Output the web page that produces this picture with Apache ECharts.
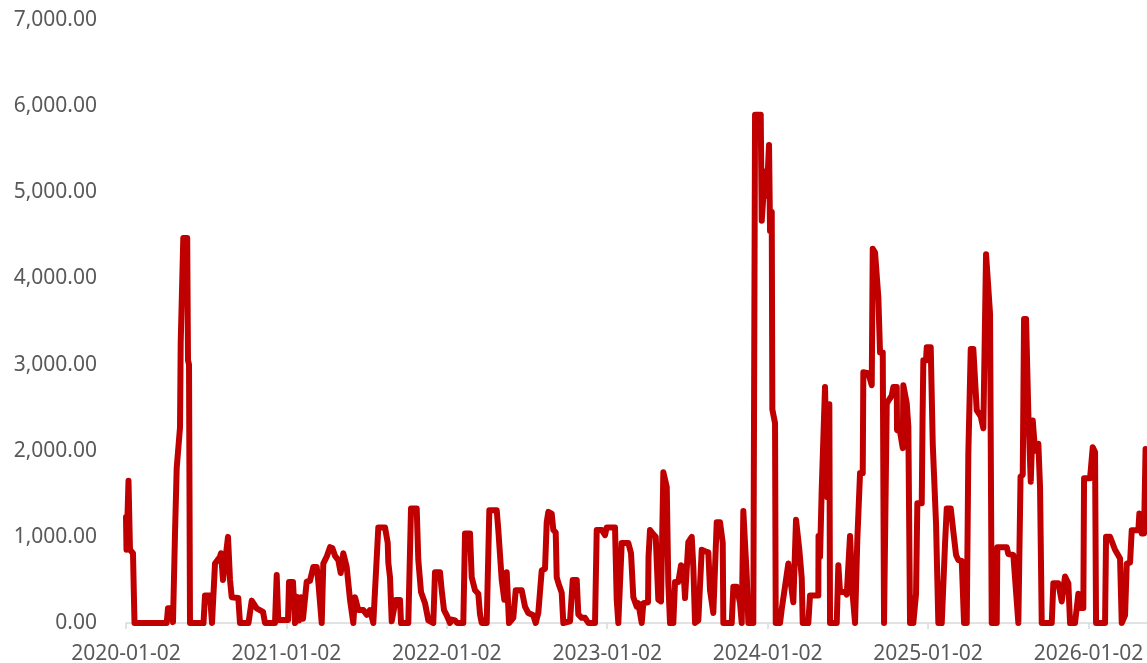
<!DOCTYPE html>
<html>
<head>
<meta charset="utf-8">
<title>Daily series 2020–2026</title>
<script src="https://cdn.jsdelivr.net/npm/echarts@6/dist/echarts.min.js"></script>
<style>
  html, body { margin: 0; padding: 0; background: #ffffff; }
  #chart { width: 1147px; height: 663px; }
</style>
</head>
<body>
<div id="chart"></div>
<script>
// Time of each reading, in years since 2020-01-02
const t = [
  0.0000, 0.0031, 0.0156, 0.0249, 0.0436, 0.0530, 0.2537, 0.2618, 0.2837, 0.2930,
  0.3055, 0.3161, 0.3367, 0.3410, 0.3572, 0.3815, 0.3865, 0.3928, 0.3990, 0.4832,
  0.4925, 0.5237, 0.5362, 0.5549, 0.5860, 0.5923, 0.6047, 0.6359, 0.6484, 0.6590,
  0.7001, 0.7107, 0.7637, 0.7837, 0.8148, 0.8541, 0.8666, 0.9289, 0.9395, 0.9495,
  1.0100, 1.0162, 1.0411, 1.0536, 1.0642, 1.0786, 1.0910, 1.1035, 1.1266, 1.1471,
  1.1677, 1.1889, 1.1989, 1.2201, 1.2300, 1.2512, 1.2718, 1.2862, 1.3030, 1.3236,
  1.3385, 1.3547, 1.3759, 1.3965, 1.4171, 1.4277, 1.4483, 1.4794, 1.5006, 1.5212,
  1.5418, 1.5730, 1.6147, 1.6316, 1.6353, 1.6459, 1.6565, 1.6664, 1.6814, 1.7082,
  1.7145, 1.7600, 1.7768, 1.8123, 1.8223, 1.8391, 1.8641, 1.8847, 1.9158, 1.9264,
  1.9576, 1.9682, 1.9825, 1.9994, 2.0199, 2.0305, 2.0511, 2.0636, 2.1028, 2.1135,
  2.1446, 2.1552, 2.1758, 2.1964, 2.2070, 2.2176, 2.2487, 2.2650, 2.3111, 2.3211,
  2.3423, 2.3585, 2.3734, 2.3815, 2.3878, 2.4146, 2.4296, 2.4670, 2.4875, 2.5081,
  2.5393, 2.5542, 2.5704, 2.5916, 2.6122, 2.6228, 2.6328, 2.6540, 2.6640, 2.6789,
  2.6852, 2.6995, 2.7163, 2.7263, 2.7681, 2.7849, 2.8099, 2.8198, 2.8410, 2.8616,
  2.8822, 2.9239, 2.9345, 2.9657, 2.9863, 2.9969, 3.0486, 3.0592, 3.0692, 3.0798,
  3.0904, 3.1315, 3.1484, 3.1627, 3.1839, 3.1939, 3.2151, 3.2250, 3.2544, 3.2575,
  3.2668, 3.2874, 3.3024, 3.3185, 3.3354, 3.3498, 3.3710, 3.3809, 3.3915, 3.4121,
  3.4227, 3.4433, 3.4601, 3.4744, 3.4850, 3.4956, 3.5056, 3.5268, 3.5368, 3.5474,
  3.5680, 3.5891, 3.6141, 3.6303, 3.6409, 3.6615, 3.6827, 3.7032, 3.7201, 3.7238,
  3.7762, 3.7862, 3.8074, 3.8279, 3.8385, 3.8485, 3.8591, 3.8697, 3.8797, 3.9108,
  3.9215, 3.9570, 3.9632, 3.9838, 3.9944, 4.0087, 4.0150, 4.0256, 4.0293, 4.0461,
  4.0505, 4.0773, 4.0879, 4.1290, 4.1396, 4.1602, 4.1770, 4.1976, 4.2126, 4.2188,
  4.2537, 4.2643, 4.3161, 4.3173, 4.3267, 4.3373, 4.3578, 4.3722, 4.3847, 4.3890,
  4.4308, 4.4408, 4.4514, 4.4825, 4.4931, 4.5137, 4.5305, 4.5449, 4.5592, 4.5761,
  4.5929, 4.5966, 4.6278, 4.6490, 4.6552, 4.6696, 4.6902, 4.7007, 4.7176, 4.7257,
  4.7425, 4.7737, 4.7837, 4.8049, 4.8067, 4.8254, 4.8423, 4.8460, 4.8672, 4.8772,
  4.8878, 4.9084, 4.9252, 4.9333, 4.9607, 4.9657, 4.9707, 4.9875, 4.9919, 5.0168,
  5.0293, 5.0499, 5.0642, 5.0854, 5.1060, 5.1166, 5.1415, 5.1577, 5.1746, 5.1889,
  5.2101, 5.2244, 5.2413, 5.2512, 5.2662, 5.2824, 5.3036, 5.3285, 5.3448, 5.3616,
  5.3865, 5.3971, 5.4283, 5.4320, 5.4906, 5.5006, 5.5318, 5.5630, 5.5736, 5.5767,
  5.5904, 5.5985, 5.6110, 5.6253, 5.6403, 5.6528, 5.6671, 5.6877, 5.6982, 5.7088,
  5.7712, 5.7811, 5.8123, 5.8335, 5.8541, 5.8747, 5.8853, 5.9164, 5.9370, 5.9476,
  5.9682, 5.9726, 6.0100, 6.0268, 6.0411, 6.0474, 6.1035, 6.1097, 6.1347, 6.1658,
  6.1970, 6.2076, 6.2282, 6.2388, 6.2593, 6.2699, 6.3111, 6.3173, 6.3323, 6.3466,
  6.3560
];

// Reading at each time
const values = [
  1230, 850, 1650, 850, 810, 0, 0, 170, 170, 10,
  1040, 1800, 2270, 3250, 4470, 4470, 3050, 3000, 0, 0,
  320, 320, 0, 690, 770, 810, 500, 1000, 500, 300,
  290, 0, 0, 260, 170, 130, 0, 0, 556, 35,
  35, 477, 477, 0, 305, 30, 300, 50, 480, 490,
  650, 650, 480, 0, 690, 770, 880, 870, 780, 730,
  580, 810, 650, 270, 0, 300, 150, 150, 95, 150,
  0, 1110, 1110, 930, 700, 530, 20, 0, 267, 267,
  0, 0, 1330, 1330, 730, 360, 230, 30, 0, 590,
  590, 380, 150, 90, 0, 40, 30, 0, 0, 1040,
  1040, 530, 380, 340, 100, 0, 0, 1310, 1310, 1080,
  500, 270, 590, 590, 0, 60, 380, 380, 190, 116,
  90, 0, 120, 610, 630, 1170, 1290, 1270, 1080, 1050,
  530, 440, 350, 0, 20, 500, 500, 100, 60, 60,
  0, 0, 1080, 1080, 1020, 1110, 1110, 270, 0, 0,
  930, 930, 810, 300, 190, 230, 0, 230, 240, 770,
  1080, 1030, 1000, 270, 250, 1750, 1580, 460, 0, 0,
  475, 475, 670, 650, 290, 290, 940, 1000, 650, 0,
  30, 850, 830, 820, 380, 116, 1170, 1170, 930, 0,
  0, 420, 420, 230, 0, 1300, 1300, 550, 0, 0,
  5900, 5900, 4670, 5240, 4960, 5550, 4550, 4770, 2480, 2320,
  0, 0, 160, 690, 680, 240, 1200, 850, 520, 0,
  0, 320, 320, 1010, 770, 1560, 2740, 1460, 2540, 0,
  0, 670, 360, 360, 330, 1010, 320, 0, 970, 1740,
  1740, 2910, 2900, 2760, 4345, 4300, 3780, 3140, 3140, 0,
  2550, 2640, 2740, 2740, 2240, 2220, 2030, 2760, 2550, 2280,
  0, 0, 340, 1390, 1390, 2350, 3050, 3050, 3200, 3200,
  2080, 1150, 0, 0, 920, 1330, 1330, 1060, 790, 730,
  720, 0, 0, 1970, 3180, 3180, 2470, 2400, 2260, 4280,
  3590, 0, 0, 880, 880, 800, 790, 0, 0, 1700,
  1720, 3530, 3530, 2430, 1640, 2350, 2000, 2080, 1580, 0,
  0, 460, 460, 250, 540, 460, 0, 0, 340, 174,
  174, 1680, 1680, 2040, 1985, 0, 0, 1000, 1000, 850,
  750, 0, 90, 690, 700, 1077, 1077, 1270, 1040, 1040,
  2020
];

const startYear = 2020;
const endYear = 2026.365;
const yTicks = [0, 1000, 2000, 3000, 4000, 5000, 6000, 7000];

const seriesData = t.map((dt, i) => [startYear + dt, values[i]]);

const fontFamily = '"Noto Sans", "Open Sans", sans-serif';
const labelColor = '#595959';

function fmtThousands(v) {
  return Number(v).toLocaleString('en-US', { minimumFractionDigits: 2, maximumFractionDigits: 2 });
}

const chart = echarts.init(document.getElementById('chart'), null, { renderer: 'canvas' });
chart.setOption({
  animation: false,
  backgroundColor: '#ffffff',
  grid: { left: 126, right: 0, top: 20, bottom: 40, containLabel: false, outerBoundsMode: 'none' },
  xAxis: {
    type: 'value',
    min: startYear,
    max: endYear,
    interval: 1,
    axisLine: { show: true, lineStyle: { color: '#d9d9d9', width: 1.5 } },
    axisTick: { show: true, length: 6, lineStyle: { color: '#d9d9d9', width: 1.5 } },
    splitLine: { show: false },
    axisLabel: {
      showMaxLabel: false,
      margin: 21,
      color: labelColor,
      fontFamily: fontFamily,
      fontSize: 21,
      formatter: v => (Math.abs(v - Math.round(v)) < 1e-6 ? Math.round(v) + '-01-02' : '')
    }
  },
  yAxis: {
    type: 'value',
    min: yTicks[0],
    max: yTicks[yTicks.length - 1],
    interval: 1000,
    axisLine: { show: false },
    axisTick: { show: false },
    splitLine: { show: false },
    axisLabel: {
      margin: 29,
      color: labelColor,
      fontFamily: fontFamily,
      fontSize: 21,
      formatter: v => fmtThousands(v)
    }
  },
  series: [{
    type: 'line',
    data: seriesData,
    showSymbol: false,
    symbol: 'none',
    clip: false,
    lineStyle: { color: '#c00000', width: 6, join: 'round', cap: 'round' }
  }]
});
</script>
</body>
</html>
